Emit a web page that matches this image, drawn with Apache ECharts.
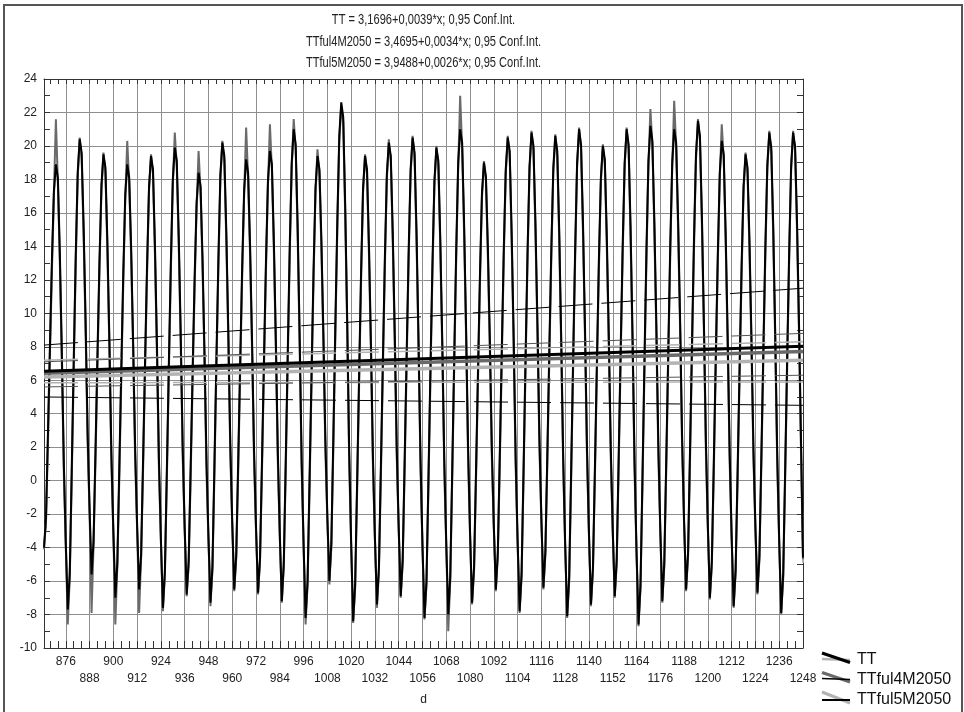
<!DOCTYPE html>
<html>
<head>
<meta charset="utf-8">
<script src="https://cdn.jsdelivr.net/npm/echarts@6/dist/echarts.min.js"></script>
<style>html,body{margin:0;padding:0;background:#fff}#c{width:964px;height:712px}</style>
</head>
<body>
<div id="c"></div>
<script>
// ---------------- data (monthly values, one row = one year Jan..Dec) ----------------
const xStart = 865; // index of the first month on the "d" axis
const seriesNames = ['TT', 'TTful4M2050', 'TTful5M2050'];

const tt = [
  [-4.0, -2.2, 2.9, 8.1, 13.2, 17.3, 18.9, 18.1, 13.6, 7.7, 1.1, -3.7],
  [-7.7, -5.5, 0.7, 7.2, 13.4, 18.4, 20.4, 19.6, 15.2, 9.5, 3.0, -1.7],
  [-5.6, -3.6, 1.9, 7.7, 13.2, 17.7, 19.5, 18.7, 14.2, 8.4, 1.7, -3.0],
  [-7.0, -4.9, 0.8, 6.7, 12.4, 17.1, 18.9, 18.1, 13.8, 8.2, 1.9, -2.7],
  [-6.5, -4.4, 1.3, 7.2, 12.9, 17.6, 19.4, 18.6, 14.0, 8.1, 1.3, -3.5],
  [-7.6, -5.4, 0.7, 7.0, 13.0, 18.0, 19.9, 19.1, 14.6, 8.7, 2.0, -2.8],
  [-6.8, -4.8, 0.8, 6.6, 12.1, 16.6, 18.4, 17.6, 13.3, 7.6, 1.2, -3.4],
  [-7.3, -5.1, 1.0, 7.3, 13.3, 18.3, 20.2, 19.4, 14.9, 9.0, 2.3, -2.5],
  [-6.5, -4.4, 1.2, 7.1, 12.8, 17.4, 19.2, 18.4, 14.0, 8.3, 1.8, -2.8],
  [-6.7, -4.6, 1.2, 7.3, 13.1, 17.9, 19.7, 18.9, 14.3, 8.4, 1.7, -3.2],
  [-7.2, -4.9, 1.3, 7.7, 14.0, 19.0, 21.0, 20.1, 15.2, 8.7, 1.4, -3.8],
  [-8.2, -6.0, 0.1, 6.4, 12.5, 17.5, 19.4, 18.6, 14.3, 8.7, 2.4, -2.2],
  [-6.0, -3.7, 2.6, 9.2, 15.5, 20.6, 22.6, 21.7, 16.4, 9.6, 1.8, -3.7],
  [-8.4, -6.2, -0.1, 6.3, 12.5, 17.5, 19.4, 18.6, 14.0, 8.1, 1.4, -3.4],
  [-7.4, -5.2, 0.9, 7.2, 13.3, 18.3, 20.2, 19.4, 14.8, 8.8, 2.0, -2.8],
  [-6.9, -4.7, 1.3, 7.6, 13.7, 18.6, 20.5, 19.6, 14.8, 8.4, 1.3, -3.9],
  [-8.2, -6.0, 0.2, 6.7, 12.9, 17.9, 19.9, 19.1, 14.3, 8.2, 1.2, -3.8],
  [-8.0, -5.7, 0.7, 7.4, 13.8, 19.0, 21.0, 20.2, 15.3, 9.1, 2.0, -3.1],
  [-7.3, -5.2, 0.6, 6.6, 12.4, 17.2, 19.0, 18.2, 13.9, 8.3, 1.9, -2.7],
  [-6.5, -4.3, 1.6, 7.8, 13.8, 18.6, 20.5, 19.7, 14.8, 8.6, 1.5, -3.6],
  [-7.8, -5.5, 0.8, 7.4, 13.7, 18.8, 20.8, 20.0, 15.4, 9.4, 2.6, -2.3],
  [-6.4, -4.2, 1.7, 7.9, 13.9, 18.7, 20.6, 19.7, 14.9, 8.5, 1.4, -3.8],
  [-8.1, -5.8, 0.6, 7.3, 13.7, 19.0, 21.0, 20.1, 15.3, 9.1, 2.0, -3.1],
  [-7.4, -5.2, 0.8, 7.1, 13.2, 18.1, 20.0, 19.2, 14.6, 8.7, 2.0, -2.9],
  [-6.9, -4.7, 1.5, 7.9, 14.0, 19.0, 21.0, 20.1, 15.1, 8.6, 1.2, -4.2],
  [-8.6, -6.2, 0.3, 7.2, 13.8, 19.1, 21.2, 20.3, 15.5, 9.3, 2.2, -2.9],
  [-7.2, -4.9, 1.3, 7.7, 14.0, 19.0, 21.0, 20.2, 15.5, 9.5, 2.6, -2.4],
  [-6.5, -4.3, 1.9, 8.3, 14.5, 19.5, 21.5, 20.6, 15.8, 9.5, 2.4, -2.7],
  [-7.0, -4.8, 1.2, 7.5, 13.5, 18.4, 20.3, 19.5, 14.7, 8.6, 1.7, -3.3],
  [-7.5, -5.3, 0.6, 6.8, 12.8, 17.6, 19.5, 18.7, 14.3, 8.5, 1.9, -2.8],
  [-6.7, -4.5, 1.6, 7.9, 14.0, 18.9, 20.8, 19.9, 15.1, 8.7, 1.6, -3.6],
  [-7.9, -5.6, 0.7, 7.3, 13.6, 18.8, 20.8, 20.0, 15.4, 9.3, 2.4, -4.6]
];

const ttful4 = [
  [-4.1, -2.5, 2.5, 7.7, 12.8, 17.2, 21.6, 17.8, 13.2, 7.3, 0.8, -3.9],
  [-8.6, -5.8, 0.3, 6.8, 13.0, 18.1, 20.5, 19.3, 14.8, 9.1, 2.6, -1.9],
  [-7.9, -3.9, 1.5, 7.3, 12.8, 17.4, 19.6, 18.4, 13.8, 8.0, 1.3, -3.2],
  [-8.6, -5.1, 0.4, 6.3, 12.0, 16.8, 20.3, 17.8, 13.4, 7.8, 1.5, -2.9],
  [-7.9, -4.6, 0.9, 6.8, 12.5, 17.3, 19.5, 18.3, 13.6, 7.7, 0.9, -3.7],
  [-7.8, -5.6, 0.3, 6.6, 12.6, 17.7, 20.8, 18.8, 14.2, 8.3, 1.6, -3.0],
  [-6.9, -5.0, 0.4, 6.2, 11.7, 16.3, 19.7, 17.3, 12.9, 7.2, 0.8, -3.6],
  [-7.5, -5.3, 0.6, 6.9, 12.9, 18.0, 20.3, 19.1, 14.5, 8.6, 1.9, -2.7],
  [-6.6, -4.6, 0.8, 6.7, 12.4, 17.1, 21.1, 18.1, 13.6, 7.9, 1.4, -3.0],
  [-6.8, -4.8, 0.8, 6.9, 12.7, 17.6, 21.3, 18.6, 13.9, 8.0, 1.3, -3.4],
  [-7.3, -5.1, 0.9, 7.3, 13.6, 18.7, 21.6, 19.8, 14.8, 8.3, 1.0, -4.0],
  [-8.6, -6.2, -0.3, 6.0, 12.1, 17.2, 19.8, 18.3, 13.9, 8.3, 2.0, -2.4],
  [-6.2, -3.9, 2.2, 8.8, 15.1, 20.3, 22.4, 21.4, 16.0, 9.2, 1.4, -3.9],
  [-8.5, -6.4, -0.5, 5.9, 12.1, 17.2, 19.5, 18.3, 13.6, 7.7, 1.0, -3.6],
  [-7.6, -5.4, 0.5, 6.8, 12.9, 18.0, 20.4, 19.1, 14.4, 8.4, 1.6, -3.0],
  [-7.0, -4.9, 0.9, 7.2, 13.3, 18.3, 20.6, 19.3, 14.4, 8.0, 0.9, -4.1],
  [-8.3, -6.2, -0.2, 6.3, 12.5, 17.6, 20.0, 18.8, 13.9, 7.8, 0.8, -4.0],
  [-9.0, -5.9, 0.3, 7.0, 13.4, 18.7, 23.0, 19.9, 14.9, 8.7, 1.6, -3.3],
  [-7.4, -5.4, 0.2, 6.2, 12.0, 16.9, 19.1, 17.9, 13.5, 7.9, 1.5, -2.9],
  [-6.6, -4.5, 1.2, 7.4, 13.4, 18.3, 20.6, 19.4, 14.4, 8.2, 1.1, -3.8],
  [-7.9, -5.7, 0.4, 7.0, 13.3, 18.5, 20.9, 19.7, 15.0, 9.0, 2.2, -2.5],
  [-6.5, -4.4, 1.3, 7.5, 13.5, 18.4, 20.7, 19.4, 14.5, 8.1, 1.0, -4.0],
  [-8.2, -6.0, 0.2, 6.9, 13.3, 18.7, 21.1, 19.8, 14.9, 8.7, 1.6, -3.3],
  [-7.5, -5.4, 0.4, 6.7, 12.8, 17.8, 20.1, 18.9, 14.2, 8.3, 1.6, -3.1],
  [-7.0, -4.9, 1.1, 7.5, 13.6, 18.7, 21.1, 19.8, 14.7, 8.2, 0.8, -4.4],
  [-8.7, -6.4, -0.1, 6.8, 13.4, 18.8, 22.2, 20.0, 15.1, 8.9, 1.8, -3.1],
  [-7.3, -5.1, 0.9, 7.3, 13.6, 18.7, 22.7, 19.9, 15.1, 9.1, 2.2, -2.6],
  [-6.6, -4.5, 1.5, 7.9, 14.1, 19.2, 21.6, 20.3, 15.4, 9.1, 2.0, -2.9],
  [-7.1, -5.0, 0.8, 7.1, 13.1, 18.1, 21.3, 19.2, 14.3, 8.2, 1.3, -3.5],
  [-7.6, -5.5, 0.2, 6.4, 12.4, 17.3, 19.6, 18.4, 13.9, 8.1, 1.5, -3.0],
  [-6.8, -4.7, 1.2, 7.5, 13.6, 18.6, 20.9, 19.6, 14.7, 8.3, 1.2, -3.8],
  [-8.0, -5.8, 0.3, 6.9, 13.2, 18.5, 20.9, 19.7, 15.0, 8.9, 2.0, -4.7]
];

const ttful5 = [
  [-3.9, -2.5, 2.1, 7.3, 12.4, 17.1, 18.7, 17.9, 12.8, 6.9, 0.3, -4.0],
  [-7.6, -5.8, -0.1, 6.4, 12.6, 18.2, 20.2, 19.4, 14.4, 8.7, 2.2, -2.0],
  [-5.5, -3.9, 1.1, 6.9, 12.4, 17.5, 19.3, 18.5, 13.4, 7.6, 0.9, -3.3],
  [-6.9, -5.2, 0.0, 5.9, 11.6, 16.9, 18.7, 17.9, 13.0, 7.4, 1.1, -3.0],
  [-6.4, -4.7, 0.5, 6.4, 12.1, 17.4, 19.2, 18.4, 13.2, 7.3, 0.5, -3.8],
  [-7.5, -5.7, -0.1, 6.2, 12.2, 17.8, 19.7, 18.9, 13.8, 7.9, 1.2, -3.1],
  [-6.7, -5.1, 0.0, 5.8, 11.3, 16.4, 18.2, 17.4, 12.5, 6.8, 0.4, -3.7],
  [-7.2, -5.4, 0.2, 6.5, 12.5, 18.1, 20.0, 19.2, 14.1, 8.2, 1.5, -2.8],
  [-6.4, -4.7, 0.4, 6.3, 12.0, 17.2, 19.0, 18.2, 13.2, 7.5, 1.0, -3.1],
  [-6.6, -4.9, 0.4, 6.5, 12.3, 17.7, 19.5, 18.7, 13.5, 7.6, 0.9, -3.5],
  [-7.1, -5.2, 0.5, 6.9, 13.2, 18.8, 20.8, 19.9, 14.4, 7.9, 0.6, -4.1],
  [-8.1, -6.3, -0.7, 5.6, 11.7, 17.3, 19.2, 18.4, 13.5, 7.9, 1.6, -2.5],
  [-5.9, -4.0, 1.8, 8.4, 14.7, 20.4, 22.4, 21.5, 15.6, 8.8, 1.0, -4.0],
  [-8.3, -6.5, -0.9, 5.5, 11.7, 17.3, 19.2, 18.4, 13.2, 7.3, 0.6, -3.7],
  [-7.3, -5.5, 0.1, 6.4, 12.5, 18.1, 20.0, 19.2, 14.0, 8.0, 1.2, -3.1],
  [-6.8, -5.0, 0.5, 6.8, 12.9, 18.4, 20.3, 19.4, 14.0, 7.6, 0.5, -4.2],
  [-8.1, -6.3, -0.6, 5.9, 12.1, 17.7, 19.7, 18.9, 13.5, 7.4, 0.4, -4.1],
  [-7.9, -6.0, -0.1, 6.6, 13.0, 18.8, 20.8, 20.0, 14.5, 8.3, 1.2, -3.4],
  [-7.2, -5.5, -0.2, 5.8, 11.6, 17.0, 18.8, 18.0, 13.1, 7.5, 1.1, -3.0],
  [-6.4, -4.6, 0.8, 7.0, 13.0, 18.4, 20.3, 19.5, 14.0, 7.8, 0.7, -3.9],
  [-7.7, -5.8, 0.0, 6.6, 12.9, 18.6, 20.6, 19.8, 14.6, 8.6, 1.8, -2.6],
  [-6.3, -4.5, 0.9, 7.1, 13.1, 18.5, 20.4, 19.5, 14.1, 7.7, 0.6, -4.1],
  [-8.0, -6.1, -0.2, 6.5, 12.9, 18.8, 20.8, 19.9, 14.5, 8.3, 1.2, -3.4],
  [-7.3, -5.5, 0.0, 6.3, 12.4, 17.9, 19.8, 19.0, 13.8, 7.9, 1.2, -3.2],
  [-6.8, -5.0, 0.7, 7.1, 13.2, 18.8, 20.8, 19.9, 14.3, 7.8, 0.4, -4.5],
  [-8.5, -6.5, -0.5, 6.4, 13.0, 18.9, 21.0, 20.1, 14.7, 8.5, 1.4, -3.2],
  [-7.1, -5.2, 0.5, 6.9, 13.2, 18.8, 20.8, 20.0, 14.7, 8.7, 1.8, -2.7],
  [-6.4, -4.6, 1.1, 7.5, 13.7, 19.3, 21.3, 20.4, 15.0, 8.7, 1.6, -3.0],
  [-6.9, -5.1, 0.4, 6.7, 12.7, 18.2, 20.1, 19.3, 13.9, 7.8, 0.9, -3.6],
  [-7.4, -5.6, -0.2, 6.0, 12.0, 17.4, 19.3, 18.5, 13.5, 7.7, 1.1, -3.1],
  [-6.6, -4.8, 0.8, 7.1, 13.2, 18.7, 20.6, 19.7, 14.3, 7.9, 0.8, -3.9],
  [-7.8, -5.9, -0.1, 6.5, 12.8, 18.6, 20.6, 19.8, 14.6, 8.5, 1.6, -4.9]
];

// regression coefficients (from the title) and 0.95 confidence bands (start, end)
const regIntercept = [3.1696, 3.4695, 3.9488];
const regSlope = [0.0039, 0.0034, 0.0026];
const ttCiUpper = [8.1, 11.5];
const ttCiLower = [5.0, 4.5];
const ful4CiUpper = [7.1, 8.8];
const ful4CiLower = [5.6, 6.3];
const ful5CiUpper = [7.2, 8.3];
const ful5CiLower = [5.85, 5.9];

const titleLines = [
  'TT = 3,1696+0,0039*x; 0,95 Conf.Int.',
  'TTful4M2050 = 3,4695+0,0034*x; 0,95 Conf.Int.',
  'TTful5M2050 = 3,9488+0,0026*x; 0,95 Conf.Int.'
];
// tick labels: upper row and lower (staggered) row
const xLabelsUpper = [876, 900, 924, 948, 972, 996, 1020, 1044, 1068, 1092, 1116, 1140, 1164, 1188, 1212, 1236];
const xLabelsLower = [888, 912, 936, 960, 984, 1008, 1032, 1056, 1080, 1104, 1128, 1152, 1176, 1200, 1224, 1248];
const xMin = 865, xMax = 1248, xMajorStep = 12, xMinorStep = 4;
const yMin = -10, yMax = 24, yStep = 2;

// ---------------- build ----------------
const colors = ['#000000', '#6a6a6a', '#b3b3b3'];
function toPoints(rows) {
  const flat = [].concat(...rows);
  return flat.map((v, i) => [xStart + i, v]);
}
const majorTicks = [], minorTicks = [];
for (let v = 876; v <= xMax; v += xMajorStep) majorTicks.push(v);
for (let v = 868; v <= xMax; v += xMinorStep) minorTicks.push(v);

function seg(a, b) { return [[xMin, a], [xMax, b]]; }
function regLine(i) { return seg(regIntercept[i] + regSlope[i] * xMin, regIntercept[i] + regSlope[i] * xMax); }

const lineFont = '"Liberation Sans", Arial, sans-serif';

const series = [];
const raw = [ttful5, ttful4, tt];
const rawIdx = [2, 1, 0];
raw.forEach((rows, k) => {
  const i = rawIdx[k];
  series.push({
    name: seriesNames[i], type: 'line', data: toPoints(rows), showSymbol: false, symbol: 'none',
    lineStyle: { color: colors[i], width: 2 }, silent: true, z: 2 + k
  });
});
const ciDefs = [
  [ful5CiUpper, colors[2], 1.5], [ful5CiLower, colors[2], 1.5],
  [ful4CiUpper, '#555555', 1], [ful4CiLower, '#555555', 1],
  [ttCiUpper, '#000000', 1], [ttCiLower, '#000000', 1]
];
ciDefs.forEach((d) => {
  series.push({
    type: 'line', data: seg(d[0][0], d[0][1]), symbol: 'none', silent: true, z: 6,
    lineStyle: { color: d[1], width: d[2], type: [34, 9] }
  });
});
[2, 1, 0].forEach((i) => {
  series.push({
    type: 'line', data: regLine(i), symbol: 'none', silent: true, z: 8,
    lineStyle: { color: colors[i], width: i === 0 ? 3 : 3.5 }
  });
});

const graphic = [
  { type: 'rect', shape: { x: 4, y: 5, width: 958, height: 720 }, style: { fill: 'none', stroke: '#555', lineWidth: 2 }, silent: true }
];
titleLines.forEach((t, i) => {
  graphic.push({
    type: 'text', x: 423.5, y: 20 + i * 21.5, scaleX: 0.74,
    style: { text: t, font: '15px ' + lineFont, fill: '#222', textAlign: 'center', textVerticalAlign: 'middle' }
  });
});
// legend
const legRows = [660, 680, 700];
const legSym = [
  [{ c: colors[2], w: 2.5, p: [[822, 659], [850, 660]] }, { c: '#000', w: 3, p: [[822, 653], [850, 662.5]] }],
  [{ c: colors[1], w: 3, p: [[822, 672.5], [850, 682]] }, { c: '#000', w: 1.5, p: [[822, 678.5], [850, 679.5]] }],
  [{ c: colors[2], w: 3, p: [[822, 692], [850, 703]] }, { c: '#000', w: 2, p: [[822, 700], [850, 700]] }]
];
legSym.forEach((arr, r) => {
  arr.forEach((l) => {
    graphic.push({ type: 'line', shape: { x1: l.p[0][0], y1: l.p[0][1], x2: l.p[1][0], y2: l.p[1][1] },
      style: { stroke: l.c, lineWidth: l.w }, silent: true });
  });
  graphic.push({ type: 'text', x: 857, y: legRows[r],
    style: { text: seriesNames[r], font: '16px ' + lineFont, fill: '#111', textAlign: 'left', textVerticalAlign: 'middle' } });
});

const axisColor = '#333';
const gridColor = '#8e8e8e';
const labelStyle = {
  fontFamily: lineFont, fontSize: 12, color: '#222', showMinLabel: true, showMaxLabel: true, hideOverlap: false,
  formatter: (v) => String(v)
};
const option = {
  animation: false,
  backgroundColor: '#ffffff',
  grid: { left: 44, right: 161, top: 79, bottom: 64, containLabel: false, outerBoundsMode: 'none' },
  xAxis: [
    {
      type: 'value', position: 'bottom', min: xMin, max: xMax,
      name: 'd', nameLocation: 'middle', nameGap: 46,
      nameTextStyle: { fontFamily: lineFont, fontSize: 12, color: '#222' },
      axisLine: { show: true, onZero: false, lineStyle: { color: axisColor, width: 1 } },
      axisTick: { show: true, inside: true, length: 6, customValues: majorTicks, lineStyle: { color: axisColor } },
      axisLabel: Object.assign({ customValues: xLabelsUpper, margin: 8 }, labelStyle),
      splitLine: { show: true, lineStyle: { color: gridColor, width: 1 } }
    },
    {
      type: 'value', position: 'bottom', min: xMin, max: xMax,
      axisLine: { show: false, onZero: false },
      axisTick: { show: true, inside: true, length: 7, customValues: minorTicks, lineStyle: { color: axisColor } },
      axisLabel: Object.assign({ customValues: xLabelsLower, margin: 25 }, labelStyle),
      splitLine: { show: false }
    },
    {
      type: 'value', position: 'top', min: xMin, max: xMax,
      axisLine: { show: true, onZero: false, lineStyle: { color: axisColor, width: 1 } },
      axisTick: { show: true, inside: true, length: 5, customValues: minorTicks, lineStyle: { color: axisColor } },
      axisLabel: { show: false }, splitLine: { show: false }
    }
  ],
  yAxis: [
    {
      type: 'value', position: 'left', min: yMin, max: yMax, interval: yStep,
      axisLine: { show: true, onZero: false, lineStyle: { color: axisColor, width: 1 } },
      axisTick: { show: true, inside: true, length: 6, lineStyle: { color: axisColor } },
      minorTick: { show: true, splitNumber: 2, length: 6, lineStyle: { color: axisColor } },
      axisLabel: { margin: 7, fontFamily: lineFont, fontSize: 12, color: '#222' },
      splitLine: { show: true, lineStyle: { color: gridColor, width: 1 } }
    },
    {
      type: 'value', position: 'right', min: yMin, max: yMax, interval: yStep,
      axisLine: { show: true, onZero: false, lineStyle: { color: axisColor, width: 1 } },
      axisTick: { show: true, inside: true, length: 6, lineStyle: { color: axisColor } },
      minorTick: { show: true, splitNumber: 2, length: 6, lineStyle: { color: axisColor } },
      axisLabel: { show: false }, splitLine: { show: false }
    }
  ],
  series: series,
  graphic: graphic
};
const chart = echarts.init(document.getElementById('c'), null, { renderer: 'canvas' });
chart.setOption(option);
</script>
</body>
</html>
